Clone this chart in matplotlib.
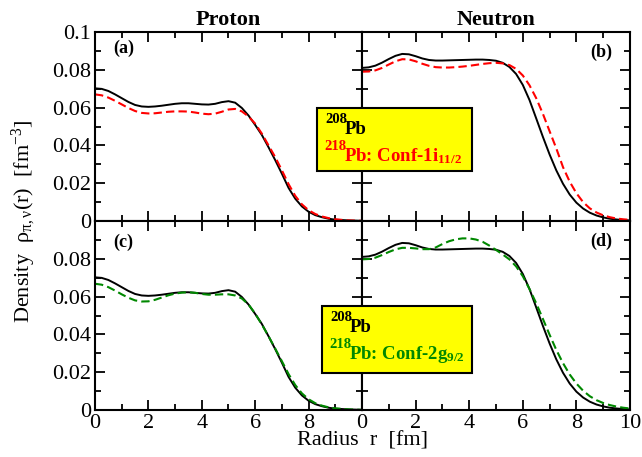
import matplotlib
matplotlib.use('Agg')
import matplotlib.pyplot as plt
from matplotlib.ticker import MultipleLocator, FixedLocator, FixedFormatter
from matplotlib.patches import Rectangle

plt.rcParams['font.family'] = ['Liberation Serif', 'DejaVu Serif']
plt.rcParams['mathtext.fontset'] = 'custom'
plt.rcParams['mathtext.rm'] = 'Liberation Serif'
plt.rcParams['mathtext.it'] = 'Liberation Serif:italic'
plt.rcParams['mathtext.bf'] = 'Liberation Serif:bold'

# radius grid [fm]
r = [0, 0.25, 0.5, 0.75, 1.0, 1.25, 1.5, 1.75, 2.0, 2.25, 2.5, 2.75, 3.0, 3.25,
     3.5, 3.75, 4.0, 4.25, 4.5, 4.75, 5.0, 5.25, 5.5, 5.75, 6.0, 6.25, 6.5, 6.75,
     7.0, 7.25, 7.5, 7.75, 8.0, 8.25, 8.5, 8.75, 9.0, 9.25, 9.5, 9.75, 10.0]

# proton densities
p_208 = [0.0702, 0.0699, 0.0688, 0.0670, 0.0650, 0.0630, 0.0614, 0.0606, 0.0604, 0.0606,
         0.0610, 0.0615, 0.0620, 0.0623, 0.0623, 0.0620, 0.0617, 0.0616, 0.0620, 0.0629,
         0.0634, 0.0626, 0.0598, 0.0558, 0.0508, 0.0455, 0.0390, 0.0322, 0.0250, 0.0175,
         0.0118, 0.0077, 0.0049, 0.0031, 0.0020, 0.0012, 0.0007, 0.0005, 0.0003, 0.0002, 0.0001]
p_1i = [0.0670, 0.0665, 0.0653, 0.0636, 0.0617, 0.0598, 0.0582, 0.0572, 0.0569, 0.0570,
        0.0574, 0.0578, 0.0580, 0.0580, 0.0579, 0.0574, 0.0568, 0.0565, 0.0568, 0.0578,
        0.0590, 0.0593, 0.0580, 0.0553, 0.0515, 0.0462, 0.0400, 0.0338, 0.0268, 0.0195,
        0.0133, 0.0088, 0.0057, 0.0037, 0.0024, 0.0015, 0.0009, 0.0006, 0.0003, 0.0002, 0.0001]
p_2g = [0.0668, 0.0663, 0.0650, 0.0632, 0.0612, 0.0594, 0.0580, 0.0574, 0.0575, 0.0583,
        0.0595, 0.0607, 0.0616, 0.0621, 0.0623, 0.0620, 0.0614, 0.0610, 0.0610, 0.0612,
        0.0612, 0.0606, 0.0590, 0.0558, 0.0510, 0.0452, 0.0390, 0.0325, 0.0258, 0.0190,
        0.0132, 0.0088, 0.0057, 0.0036, 0.0023, 0.0014, 0.0009, 0.0006, 0.0003, 0.0002, 0.0001]

# neutron densities
n_208 = [0.0810, 0.0813, 0.0822, 0.0838, 0.0857, 0.0874, 0.0884, 0.0882, 0.0872, 0.0860,
         0.0852, 0.0849, 0.0849, 0.0850, 0.0851, 0.0852, 0.0853, 0.0854, 0.0854, 0.0852,
         0.0848, 0.0837, 0.0815, 0.0778, 0.0720, 0.0640, 0.0543, 0.0445, 0.0352, 0.0268,
         0.0197, 0.0140, 0.0097, 0.0066, 0.0044, 0.0029, 0.0019, 0.0012, 0.0008, 0.0005, 0.0003]
n_1i = [0.0790, 0.0791, 0.0797, 0.0810, 0.0828, 0.0845, 0.0856, 0.0855, 0.0845, 0.0832,
        0.0821, 0.0814, 0.0812, 0.0812, 0.0814, 0.0817, 0.0821, 0.0826, 0.0831, 0.0835,
        0.0837, 0.0834, 0.0825, 0.0805, 0.0770, 0.0718, 0.0650, 0.0567, 0.0475, 0.0384,
        0.0285, 0.0208, 0.0147, 0.0100, 0.0067, 0.0045, 0.0030, 0.0020, 0.0013, 0.0009, 0.0006]
n_2g = [0.0797, 0.0799, 0.0806, 0.0820, 0.0836, 0.0850, 0.0858, 0.0858, 0.0855, 0.0851,
        0.0851, 0.0860, 0.0878, 0.0893, 0.0903, 0.0908, 0.0908, 0.0902, 0.0890, 0.0870,
        0.0847, 0.0823, 0.0797, 0.0760, 0.0708, 0.0640, 0.0565, 0.0482, 0.0398, 0.0318,
        0.0248, 0.0188, 0.0140, 0.0102, 0.0073, 0.0052, 0.0037, 0.0026, 0.0018, 0.0012, 0.0008]

y_ticks = [0, 0.02, 0.04, 0.06, 0.08, 0.1]
y_labels = ['0', '0.02', '0.04', '0.06', '0.08', '0.1']
x_ticks = [0, 2, 4, 6, 8, 10]
x_labels = ['0', '2', '4', '6', '8', '10']

fig = plt.figure(figsize=(6.42, 4.57), dpi=100)
W, H = 642, 457
def box(x0, y0, x1, y1):
    return [x0 / W, 1 - y1 / H, (x1 - x0) / W, (y1 - y0) / H]

ax_a = fig.add_axes(box(95, 32, 362, 221))
ax_b = fig.add_axes(box(362, 32, 630, 221))
ax_c = fig.add_axes(box(95, 221, 362, 410))
ax_d = fig.add_axes(box(362, 221, 630, 410))

ax_a.plot(r, p_208, color='black', lw=1.4)
ax_a.plot(r, p_1i, color='red', lw=1.5, dashes=(4, 2))
ax_b.plot(r, n_208, color='black', lw=1.4)
ax_b.plot(r, n_1i, color='red', lw=1.5, dashes=(4, 2))
ax_c.plot(r, p_208, color='black', lw=1.4)
ax_c.plot(r, p_2g, color='#008800', lw=1.5, dashes=(4, 2))
ax_d.plot(r, n_208, color='black', lw=1.4)
ax_d.plot(r, n_2g, color='#008800', lw=1.5, dashes=(4, 2))

for ax in [ax_a, ax_b, ax_c, ax_d]:
    ax.set_xlim(0, 10)
    ax.set_ylim(0, 0.1)
    ax.xaxis.set_major_locator(FixedLocator(x_ticks))
    ax.xaxis.set_minor_locator(MultipleLocator(1))
    ax.yaxis.set_major_locator(FixedLocator(y_ticks))
    ax.yaxis.set_minor_locator(MultipleLocator(0.01))
    ax.tick_params(which='both', direction='in', top=True, right=True,
                   labelsize=16, width=1.3, pad=3)
    ax.tick_params(which='major', length=7)
    ax.tick_params(which='minor', length=4)
    for s in ax.spines.values():
        s.set_linewidth(1.5)
    ax.set_xticklabels([])
    ax.set_yticklabels([])

ax_a.yaxis.set_major_formatter(FixedFormatter(y_labels))
ax_c.yaxis.set_major_formatter(FixedFormatter(y_labels[:-1] + ['']))
ax_c.xaxis.set_major_formatter(FixedFormatter(x_labels[:-1] + ['']))
ax_d.xaxis.set_major_formatter(FixedFormatter(x_labels))

ax_a.set_title('Proton', fontsize=16, fontweight='bold', pad=5)
ax_b.set_title('Neutron', fontsize=16, fontweight='bold', pad=5)

ax_a.text(0.067, 0.915, '(a)', transform=ax_a.transAxes, fontsize=13, fontweight='bold', va='center')
ax_b.text(0.935, 0.895, '(b)', transform=ax_b.transAxes, fontsize=13, fontweight='bold', va='center', ha='right')
ax_c.text(0.067, 0.885, '(c)', transform=ax_c.transAxes, fontsize=13, fontweight='bold', va='center')
ax_d.text(0.935, 0.89, '(d)', transform=ax_d.transAxes, fontsize=13, fontweight='bold', va='center', ha='right')

fig.text(0.5 * (95 + 630) / W, 1 - 441 / H, 'Radius  r  [fm]', fontsize=16, ha='center', va='center')
fig.text(24 / W, 1 - 221 / H, r'Density  $\mathrm{\rho_{\pi,\nu}}$(r)  [fm$^{-3}$]',
         fontsize=16, rotation=90, ha='center', va='center')

# legend boxes
def legend(x0, y0, x1, y1, second, color):
    fig.patches.append(Rectangle((x0 / W, 1 - y1 / H), (x1 - x0) / W, (y1 - y0) / H,
                                 transform=fig.transFigure, facecolor='#ffff00',
                                 edgecolor='black', lw=1.5, zorder=10))
    kw = dict(fontweight='bold', va='baseline', zorder=11)
    fig.text((x0 + 8) / W, 1 - (y0 + 15) / H, '208', fontsize=10.5, color='black', **kw)
    fig.text((x0 + 28) / W, 1 - (y0 + 26) / H, 'Pb', fontsize=13.5, color='black', **kw)
    fig.text((x0 + 7) / W, 1 - (y0 + 42) / H, '218', fontsize=10.5, color=color, **kw)
    fig.text((x0 + 27) / W, 1 - (y0 + 53) / H, second, fontsize=13.5, color=color, **kw)

legend(317, 108, 472, 171, r'Pb: Conf-1i$\mathbf{_{11/2}}$', 'red')
legend(322, 306, 472, 373, r'Pb: Conf-2g$\mathbf{_{9/2}}$', '#008800')

fig.savefig('out.png', dpi=100)
